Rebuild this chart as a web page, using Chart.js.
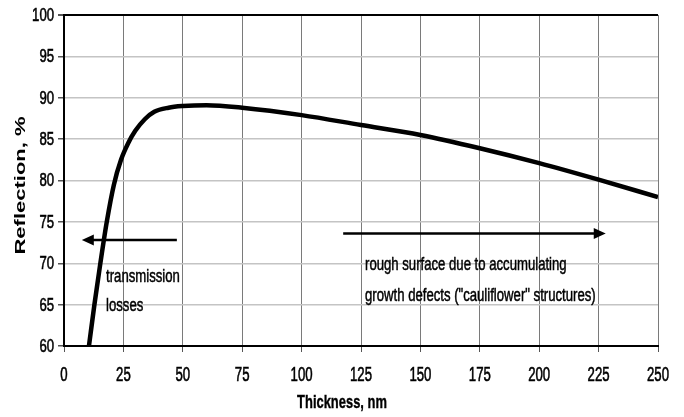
<!DOCTYPE html>
<html>
<head>
<meta charset="utf-8">
<script src="https://cdn.jsdelivr.net/npm/chart.js@4/dist/chart.umd.min.js"></script>
<style>
  html, body { margin: 0; padding: 0; background: #fff; }
  #wrap { width: 684px; height: 417px; }
</style>
</head>
<body>
<div id="wrap"><canvas id="grafik"></canvas></div>
<script>
// data
var thickness  = [10.5, 12.8, 15.3, 18, 21, 24, 27, 30, 34, 38, 44, 50, 60, 75, 100, 125, 150, 175, 200, 225, 250]
var reflection = [60, 65, 70, 75, 79.5, 82.5, 84.5, 86, 87.4, 88.3, 88.8, 89, 89.1, 88.8, 87.9, 86.7, 85.5, 83.9, 82.1, 80.1, 78]
var xTicks = [0, 25, 50, 75, 100, 125, 150, 175, 200, 225, 250]
var yTicks = [60, 65, 70, 75, 80, 85, 90, 95, 100]
var xTitle = 'Thickness, nm'
var yTitle = 'Reflection, %'

// annotations, in data units
var arrows = [
  {from: [47.5, 72.8], to: [7.5, 72.8]},
  {from: [117.5, 73.6], to: [228, 73.6]}
]
var notes = [
  {x: 17.7, y: 67.73, text: 'transmission'},
  {x: 17.7, y: 64.23, text: 'losses'},
  {x: 126.7, y: 69.18, text: 'rough surface due to accumulating'},
  {x: 126.7, y: 65.44, text: 'growth defects ("cauliflower" structures)'}
]

var sans = "'Liberation Sans', Arial, sans-serif"

// the picture's text is squeezed sideways, so it is drawn by hand
function squeezed(ctx, text, x, y, sx, align, heavy) {
  ctx.save()
  ctx.translate(x, y)
  ctx.scale(sx, 1)
  ctx.textAlign = align
  ctx.fillText(text, 0, 0)
  if (heavy) {
    ctx.lineWidth = heavy
    ctx.strokeText(text, 0, 0)
  }
  ctx.restore()
}

var textPlugin = {
  id: 'texts',
  afterDraw: function(chart) {
    var ctx = chart.ctx
    var xs = chart.scales.x, ys = chart.scales.y
    var area = chart.chartArea
    ctx.save()
    ctx.fillStyle = '#000'
    ctx.strokeStyle = '#000'

    // tick labels
    ctx.font = '18px ' + sans
    ctx.textBaseline = 'middle'
    ys.ticks.forEach(function(t) {
      squeezed(ctx, String(t.value), area.left - 10, ys.getPixelForValue(t.value) + 1, 0.73, 'right', 0.6)
    })
    ctx.font = '20px ' + sans
    ctx.textBaseline = 'alphabetic'
    xs.ticks.forEach(function(t) {
      squeezed(ctx, String(t.value), xs.getPixelForValue(t.value), area.bottom + 35, 0.66, 'center', 0.6)
    })

    // axis titles
    ctx.font = 'bold 19px ' + sans
    squeezed(ctx, xTitle, (area.left + area.right) / 2 - 19, area.bottom + 62, 0.68, 'center', 0.4)
    ctx.save()
    ctx.translate(area.left - 43, (area.top + area.bottom) / 2 + 5)
    ctx.rotate(-Math.PI / 2)
    ctx.scale(1, 0.7)
    ctx.font = 'bold 22px ' + sans
    ctx.textAlign = 'center'
    ctx.textBaseline = 'middle'
    ctx.fillText(yTitle, 0, 0)
    ctx.restore()

    // arrows
    ctx.lineWidth = 2.5
    arrows.forEach(function(a) {
      var x1 = xs.getPixelForValue(a.from[0]), y1 = ys.getPixelForValue(a.from[1])
      var x2 = xs.getPixelForValue(a.to[0]), y2 = ys.getPixelForValue(a.to[1])
      var dir = x2 > x1 ? 1 : -1
      ctx.beginPath()
      ctx.moveTo(x1, y1)
      ctx.lineTo(x2 - dir * 8, y2)
      ctx.stroke()
      ctx.beginPath()
      ctx.moveTo(x2, y2)
      ctx.lineTo(x2 - dir * 12, y2 - 5.5)
      ctx.lineTo(x2 - dir * 12, y2 + 5.5)
      ctx.closePath()
      ctx.fill()
    })

    // notes
    ctx.font = '18px ' + sans
    ctx.textBaseline = 'alphabetic'
    notes.forEach(function(n) {
      squeezed(ctx, n.text, xs.getPixelForValue(n.x), ys.getPixelForValue(n.y), 0.73, 'left', 0.5)
    })
    ctx.restore()
  }
}

new Chart(document.getElementById('grafik'), {
  type: 'scatter',
  data: {
    datasets: [{
      data: thickness.map(function(t, i) { return {x: t, y: reflection[i]} }),
      showLine: true,
      borderColor: '#000',
      borderWidth: 4.5,
      pointRadius: 0,
      cubicInterpolationMode: 'monotone'
    }]
  },
  options: {
    responsive: true,
    maintainAspectRatio: false,
    animation: false,
    layout: {padding: {top: 15, right: 26, left: 0, bottom: 0}},
    plugins: {legend: {display: false}, tooltip: {enabled: false}},
    scales: {
      x: {
        type: 'linear',
        min: 0, max: 250,
        afterBuildTicks: function(s) { s.ticks = xTicks.map(function(v) { return {value: v} }) },
        afterFit: function(s) { s.height = 71 },
        grid: {color: '#7a7a7a', lineWidth: 1, tickLength: 6, tickColor: '#555'},
        border: {color: '#000', width: 2},
        ticks: {display: false}
      },
      y: {
        min: 60, max: 100,
        afterBuildTicks: function(s) { s.ticks = yTicks.map(function(v) { return {value: v} }) },
        afterFit: function(s) { s.width = 64 },
        grid: {
          color: function(c) { return c.tick && c.tick.value === 100 ? '#000' : '#c4c4c4' },
          lineWidth: function(c) { return c.tick && c.tick.value === 100 ? 2 : 1.5 },
          tickLength: 6, tickColor: '#555'
        },
        border: {color: '#000', width: 2},
        ticks: {display: false}
      }
    }
  },
  plugins: [textPlugin]
})
</script>
</body>
</html>
